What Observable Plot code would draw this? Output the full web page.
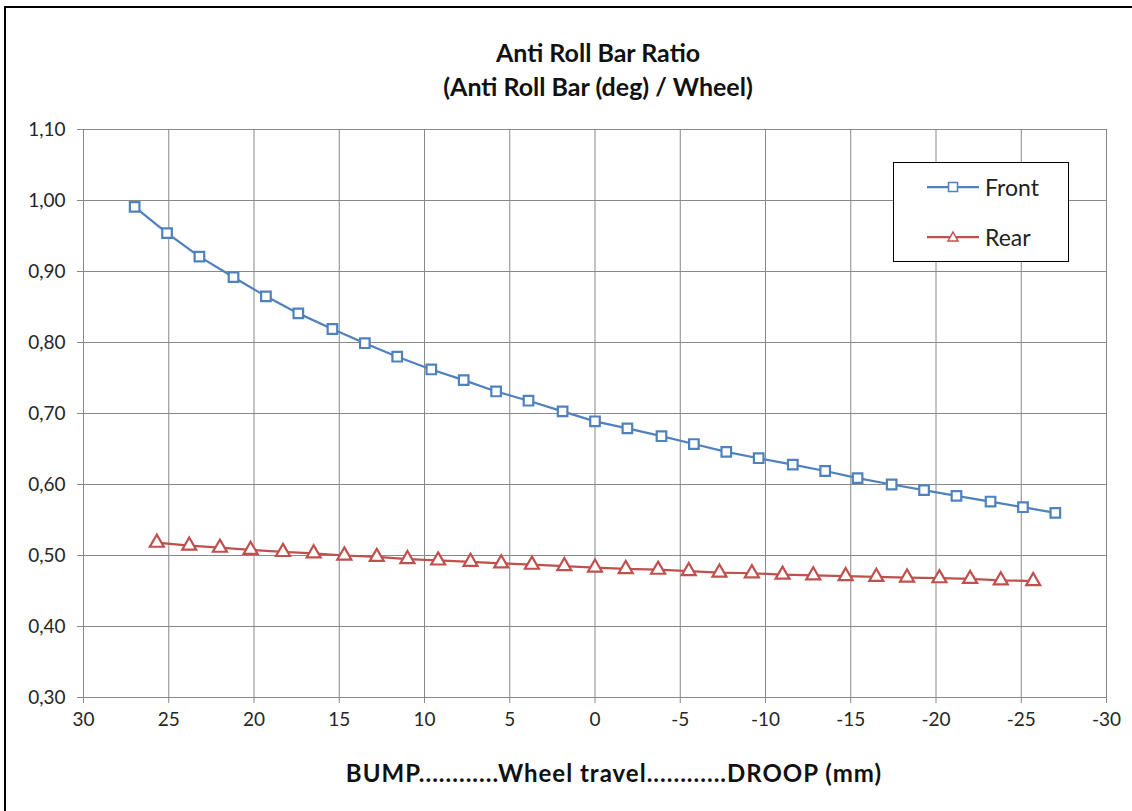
<!DOCTYPE html>
<html>
<head>
<meta charset="utf-8">
<script src="https://cdn.jsdelivr.net/npm/d3@7"></script>
<script src="https://cdn.jsdelivr.net/npm/@observablehq/plot@0.6"></script>
<style>
  html, body { margin: 0; padding: 0; background: #fff; }
  #wrap { position: relative; width: 1132px; height: 811px; overflow: hidden; font-family: Lato, "Open Sans", sans-serif; }
  #border { position: absolute; left: 4px; top: 6px; width: 1140px; height: 820px; border: 2px solid #000; box-sizing: border-box; }
  .title { position: absolute; left: 0; width: 1196px; text-align: center; font-weight: bold; font-size: 25px; line-height: 30px; color: #111; }
  #xlabel { position: absolute; left: 0; width: 1228px; top: 758px; text-align: center; font-weight: bold; font-size: 24px; line-height: 30px; letter-spacing: 1px; color: #111; }
  #legend { position: absolute; left: 893px; top: 162px; width: 176px; height: 100px; border: 1px solid #000; box-sizing: border-box; background: #fff; }
  .leg { position: absolute; left: 32px; height: 26px; display: flex; align-items: center; font-size: 23px; color: #222; }
  .leg svg { margin-right: 5px; }
  #chart { position: absolute; left: 0; top: 0; }
  #chart svg g[aria-label="x-axis tick label"] text, #chart svg g[aria-label="y-axis tick label"] text { font-size: 19px !important; }
</style>
</head>
<body>
<div id="wrap">
  <div id="chart"></div>
  <div id="border"></div>
  <div class="title" style="top:37px">Anti Roll Bar Ratio</div>
  <div class="title" style="top:71px">(Anti Roll Bar (deg) / Wheel)</div>
  <div id="xlabel">BUMP............Wheel travel............DROOP (mm)</div>
  <div id="legend">
    <div class="leg" style="top:11px"><svg width="54" height="14"><line x1="1" x2="53" y1="7" y2="7" stroke="#4F81BD" stroke-width="2.25"/><rect x="22.5" y="2.5" width="9" height="9" fill="#fff" stroke="#4F81BD" stroke-width="1.5"/></svg>Front</div>
    <div class="leg" style="top:61px"><svg width="54" height="14"><line x1="1" x2="53" y1="7" y2="7" stroke="#C0504D" stroke-width="2.25"/><polygon points="27,2 32,11 22,11" fill="#fff" stroke="#C0504D" stroke-width="1.5"/></svg>Rear</div>
  </div>
</div>
<script>
const frontTravel = [27.0, 25.1, 23.2, 21.2, 19.3, 17.4, 15.4, 13.5, 11.6, 9.6, 7.7, 5.8, 3.9, 1.9, 0, -1.9, -3.9, -5.8, -7.7, -9.6, -11.6, -13.5, -15.4, -17.4, -19.3, -21.2, -23.2, -25.1, -27.0];
const frontRatio = [0.991, 0.954, 0.921, 0.892, 0.865, 0.841, 0.819, 0.799, 0.780, 0.762, 0.747, 0.731, 0.718, 0.703, 0.689, 0.679, 0.668, 0.657, 0.646, 0.637, 0.628, 0.619, 0.609, 0.600, 0.592, 0.584, 0.576, 0.568, 0.560];
const rearTravel = [25.7, 23.8, 22.0, 20.2, 18.3, 16.5, 14.7, 12.8, 11.0, 9.2, 7.3, 5.5, 3.7, 1.8, 0, -1.8, -3.7, -5.5, -7.3, -9.2, -11.0, -12.8, -14.7, -16.5, -18.3, -20.2, -22.0, -23.8, -25.7];
const rearRatio = [0.518, 0.514, 0.511, 0.508, 0.505, 0.503, 0.500, 0.498, 0.495, 0.493, 0.491, 0.489, 0.487, 0.485, 0.483, 0.481, 0.480, 0.478, 0.476, 0.475, 0.473, 0.472, 0.471, 0.470, 0.469, 0.468, 0.467, 0.465, 0.464];
const xTicks = [30, 25, 20, 15, 10, 5, 0, -5, -10, -15, -20, -25, -30];
const yTicks = [0.3, 0.4, 0.5, 0.6, 0.7, 0.8, 0.9, 1.0, 1.1];
const seriesNames = ["Front", "Rear"];
const seriesColors = ["#4F81BD", "#C0504D"];

const front = frontTravel.map((x, i) => ({x, y: frontRatio[i], s: seriesNames[0]}));
const rear = rearTravel.map((x, i) => ({x, y: rearRatio[i], s: seriesNames[1]}));

const grid = "#888888";
const chart = Plot.plot({
  width: 1132,
  height: 811,
  marginLeft: 83,
  marginRight: 26,
  marginTop: 129,
  marginBottom: 114,
  style: {fontFamily: "Lato, 'Open Sans', sans-serif", fontSize: "19px", color: "#262626", background: "transparent"},
  x: {domain: [30, -30], ticks: xTicks, label: null},
  y: {domain: [0.3, 1.1], ticks: yTicks, label: null},
  marks: [
    Plot.gridX(xTicks, {stroke: grid, strokeOpacity: 1, strokeWidth: 1}),
    Plot.gridY(yTicks, {stroke: grid, strokeOpacity: 1, strokeWidth: 1}),
    Plot.axisX(xTicks, {tickSize: 6, tickPadding: 9, stroke: grid, fill: "#262626", tickFormat: d => String(d)}),
    Plot.axisY(yTicks, {tickSize: 6, tickPadding: 12, stroke: grid, fill: "#262626", tickFormat: d => d.toFixed(2).replace(".", ",")}),
    Plot.line(front, {x: "x", y: "y", stroke: seriesColors[0], strokeWidth: 2.25}),
    Plot.dot(front, {x: "x", y: "y", symbol: "square", r: 5.4, stroke: seriesColors[0], fill: "#fff", strokeWidth: 2.2}),
    Plot.line(rear, {x: "x", y: "y", stroke: seriesColors[1], strokeWidth: 2.25}),
    Plot.dot(rear, {x: "x", y: "y", symbol: "triangle", r: 5.2, stroke: seriesColors[1], fill: "#fff", strokeWidth: 2.2})
  ]
});
document.getElementById("chart").appendChild(chart);
</script>
</body>
</html>
